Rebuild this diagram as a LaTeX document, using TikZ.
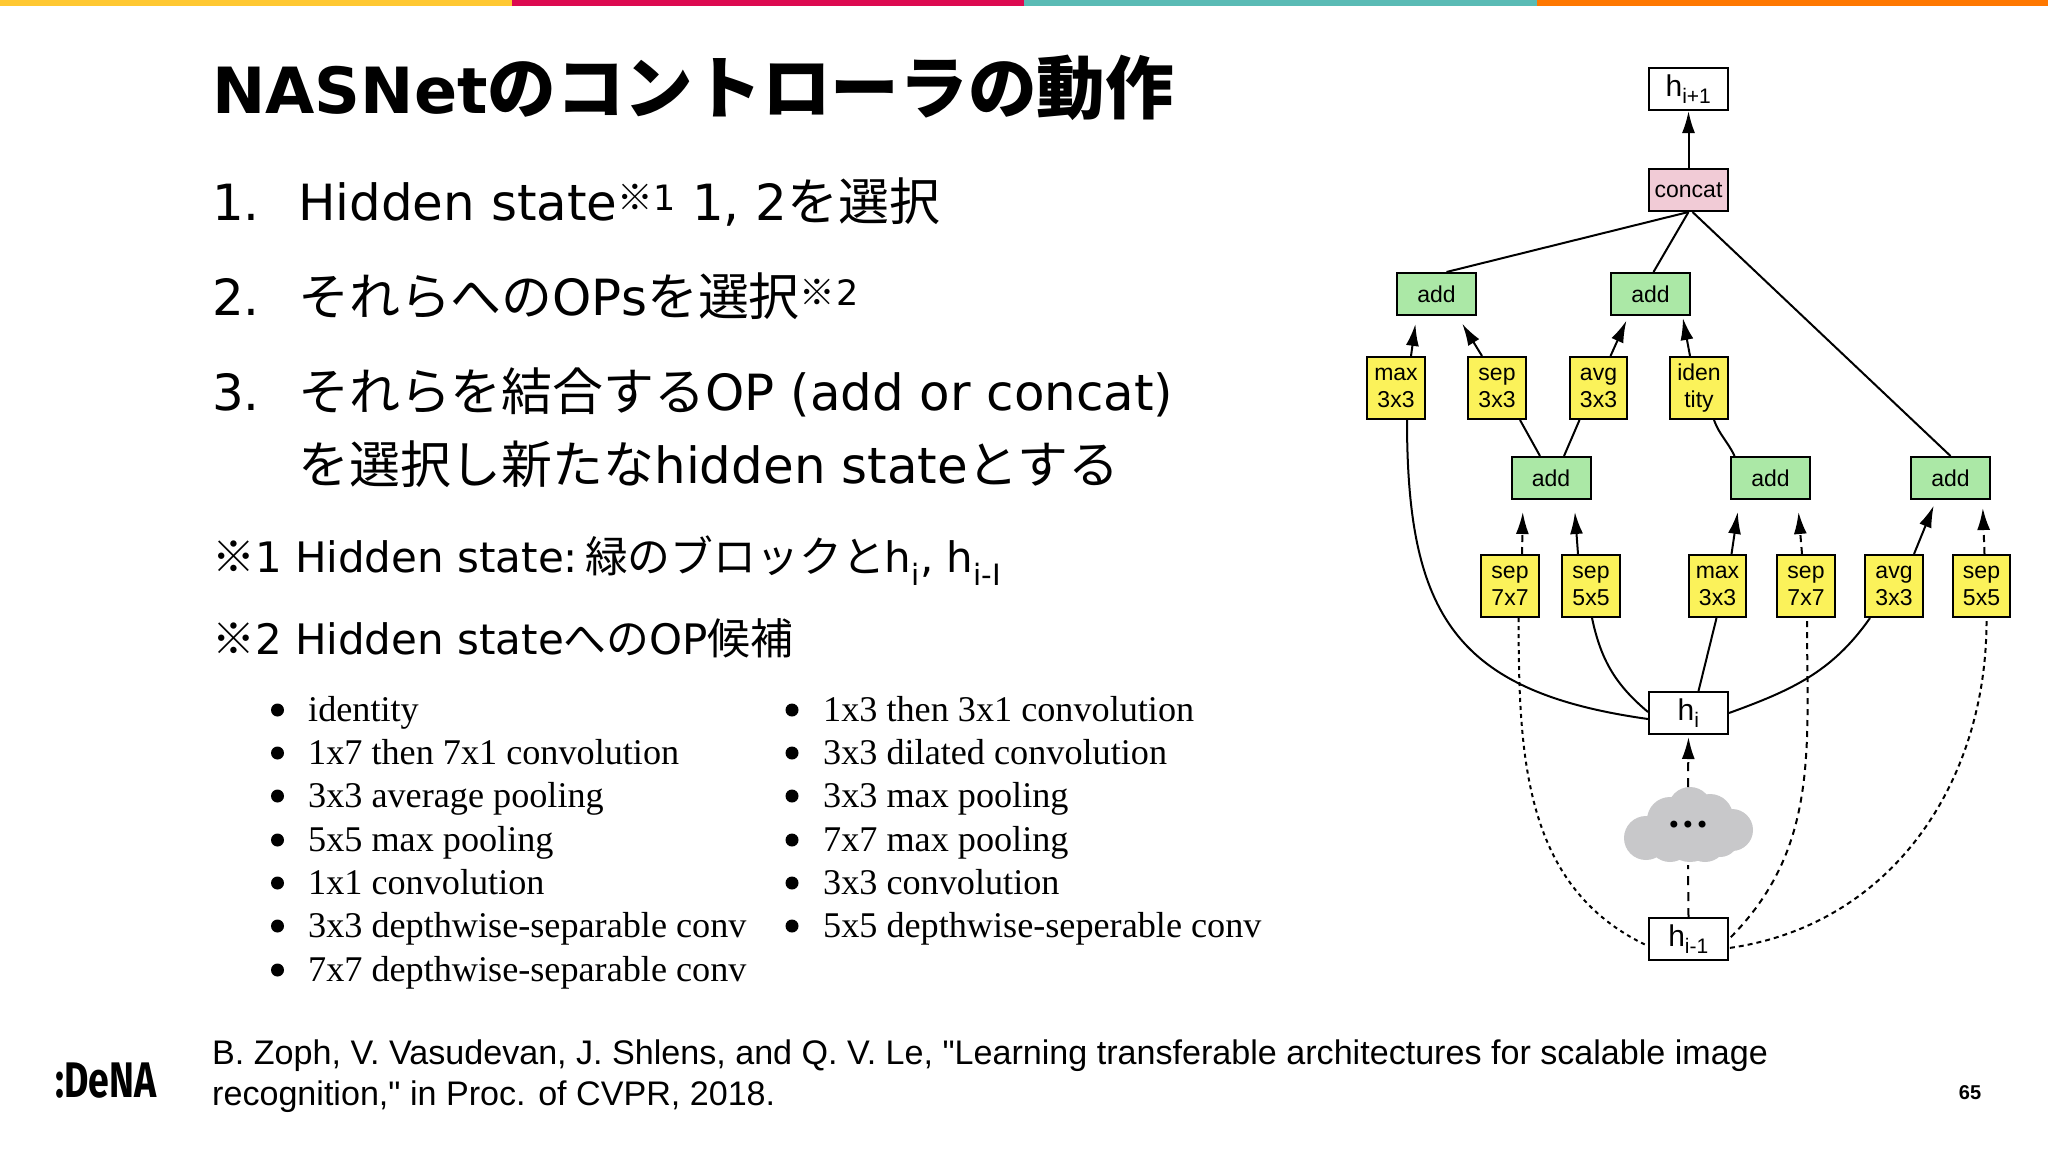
\documentclass[tikz,border=0pt]{standalone}
\usepackage{fontspec}
\usepackage{tikz}
\usetikzlibrary{positioning}
\usetikzlibrary{arrows.meta}
\setmainfont{DejaVu Sans}
\newfontfamily\jp[Scale=1.02]{Noto Sans CJK JP}
\newfontfamily\arialfont{Liberation Sans}
\newfontfamily\timesfont{Liberation Serif}
\newfontfamily\logofont[FakeStretch=0.75]{Fira Sans}
\definecolor{addgreen}{HTML}{ABE8A6}
\definecolor{opyellow}{HTML}{FBF25A}
\definecolor{concatpink}{HTML}{F1CBD6}
\definecolor{cloudgray}{HTML}{C8C8CA}
\definecolor{baryellow}{HTML}{FFC832}
\definecolor{barred}{HTML}{DC0A50}
\definecolor{barteal}{HTML}{5ABBB5}
\definecolor{barorange}{HTML}{FF7800}
\tikzstyle{statebox}=[draw, fill=white, line width=2pt, minimum width=79pt, minimum height=42pt, inner sep=0pt, font=\arialfont\fontsize{30}{32}\selectfont]
\tikzstyle{addbox}=[statebox, fill=addgreen, font=\arialfont\fontsize{23}{27}\selectfont]
\tikzstyle{opbox}=[draw, fill=opyellow, line width=2pt, minimum width=57.5pt, minimum height=62pt, inner sep=0pt, align=center, font=\arialfont\fontsize{23}{27}\selectfont]
\tikzstyle{flow}=[line width=2pt]
\tikzstyle{flowarrow}=[flow, -{Latex[length=22pt,width=13pt]}]
\tikzstyle{longdash}=[line width=2pt, dash pattern=on 9pt off 7pt]
\tikzstyle{dots}=[line width=2pt, dash pattern=on 4pt off 4pt]
\tikzstyle{slidetext}=[anchor=base west, inner sep=0pt, font=\fontsize{49.9}{58}\selectfont]
\tikzstyle{notetext}=[anchor=base west, inner sep=0pt, font=\fontsize{42}{50}\selectfont]
\tikzstyle{listtext}=[anchor=base west, inner sep=0pt, font=\timesfont\fontsize{36.2}{42}\selectfont]
\tikzstyle{listdot}=[circle, fill=black, inner sep=0pt, minimum size=13pt]
\tikzstyle{reftext}=[anchor=base west, inner sep=0pt, font=\arialfont\fontsize{34.1}{40}\selectfont]
\begin{document}
\begin{tikzpicture}[x=1pt, y=-1pt]
    \useasboundingbox (0,0) rectangle (2048,1152);
    \fill[white] (0,0) rectangle (2048,1152);

    % colour bar
    \fill[baryellow] (0,0) rectangle (512,6);
    \fill[barred] (512,0) rectangle (1024,6);
    \fill[barteal] (1024,0) rectangle (1537,6);
    \fill[barorange] (1537,0) rectangle (2048,6);

    % text
    \node[anchor=base west, inner sep=0pt, font=\bfseries\fontsize{63.7}{76}\selectfont] (title) at (212,113) {NASNet{\jp\bfseries\fontsize{67.3}{76}\selectfont のコントローラの動作}};
    \node[slidetext] (n1) at (212,220) {1.};
    \node[slidetext] (item1) at (298,220) {Hidden state{\jp\textsuperscript{※}}\textsuperscript{1} 1, 2{\jp を選択}};
    \node[slidetext] (n2) at (212,315) {2.};
    \node[slidetext] (item2) at (298,315) {{\jp それらへの}OPs{\jp を選択}{\jp\textsuperscript{※}}\textsuperscript{2}};
    \node[slidetext] (n3) at (212,410) {3.};
    \node[slidetext] (item3) at (298,410) {{\jp それらを結合する}OP (add or concat)};
    \node[slidetext] (item3b) at (298,483) {{\jp を選択し新たな}hidden state{\jp とする}};
    \node[notetext] (note1) at (212,572) {{\jp ※}1 Hidden state:\hspace{7pt}{\jp 緑のブロックと}h\textsubscript{i}, h\textsubscript{i-I}};
    \node[notetext] (note2) at (212,654) {{\jp ※}2 Hidden state{\jp への}OP{\jp 候補}};

    % left list
    \foreach \y/\t in {721/identity, 764/1x7 then 7x1 convolution, 807/3x3 average pooling, 851/5x5 max pooling, 894/1x1 convolution, 937/3x3 depthwise-separable conv, 981/7x7 depthwise-separable conv} {
        \node[listdot] (bl\y) at (277.5,\y-11) {};
        \node[listtext] (tl\y) at (308,\y) {\t};
    }
    % right list
    \foreach \y/\t in {721/1x3 then 3x1 convolution, 764/3x3 dilated convolution, 807/3x3 max pooling, 851/7x7 max pooling, 894/3x3 convolution, 937/5x5 depthwise-seperable conv} {
        \node[listdot] (br\y) at (792,\y-11) {};
        \node[listtext] (tr\y) at (823,\y) {\t};
    }

    \node[reftext] (ref1) at (212,1064) {B. Zoph, V. Vasudevan, J. Shlens, and Q. V. Le, "Learning transferable architectures for scalable image};
    \node[reftext] (ref2) at (212,1105) {recognition," in Proc. of CVPR, 2018.};
    \node[anchor=base, inner sep=0pt, font=\arialfont\bfseries\fontsize{20}{24}\selectfont] (page) at (1970,1099) {65};
    \node[anchor=base west, inner sep=0pt, font=\logofont\bfseries\fontsize{50}{50}\selectfont] (logo) at (55,1097) {:DeNA};

    % cloud
    \foreach \cx/\cy/\r in {1690/809/22, 1670/820/23, 1710/817/23, 1646/838/22, 1732/830/21, 1670/840/22, 1705/840/22, 1690/835/27, 1720/838/19}
        \fill[cloudgray] (\cx,\cy) circle (\r);

    % nodes
    \node[statebox] (hnext) at (1688.5,89) {h\textsubscript{i+1}};
    \node[statebox, fill=concatpink, font=\arialfont\fontsize{23}{27}\selectfont, below=57pt of hnext] (concat) {concat};
    \node[addbox, below left=60pt and 171pt of concat] (adda) {add};
    \node[addbox, right=133pt of adda] (addb) {add};

    \node[opbox] (maxa) at (1396,388) {max\\3x3};
    \node[opbox, right=41.5pt of maxa] (sepa) {sep\\3x3};
    \node[opbox, right=42pt of sepa] (avga) {avg\\3x3};
    \node[opbox, right=41pt of avga] (idena) {iden\\tity};

    \node[addbox] (addc) at (1551,478) {add};
    \node[addbox, right=138.5pt of addc] (addd) {add};
    \node[addbox, right=99pt of addd] (adde) {add};

    \node[opbox] (sepb) at (1510,586) {sep\\7x7};
    \node[opbox, right=21.5pt of sepb] (sepc) {sep\\5x5};
    \node[opbox, right=67pt of sepc] (maxb) {max\\3x3};
    \node[opbox, right=29pt of maxb] (sepd) {sep\\7x7};
    \node[opbox, right=28.5pt of sepd] (avgb) {avg\\3x3};
    \node[opbox, right=28pt of avgb] (sepe) {sep\\5x5};

    \node[statebox] (hcur) at (1688.5,713) {h\textsubscript{i}};
    \node[inner sep=0pt, font=\fontsize{24}{24}\selectfont] (cloud) at (1688,827) {•••};
    \node[statebox] (hprev) at (1688.5,939) {h\textsubscript{i-1}};

    % upper edges
    \draw[flowarrow] (concat) -- (hnext);
    \draw[flow] ([xshift=10pt]adda.north) -- (concat.south);
    \draw[flow] ([xshift=3pt]addb.north) -- (concat.south);
    \draw[flow] (adde.north) -- ([xshift=4pt]concat.south);

    \draw[flowarrow, shorten >=8pt] ([xshift=15pt]maxa.north) -- ([xshift=-20pt]adda.south);
    \draw[flowarrow, shorten >=9pt] ([xshift=-15pt]sepa.north) -- ([xshift=21pt]adda.south);
    \draw[flowarrow, shorten >=5pt] ([xshift=12pt]avga.north) -- ([xshift=-22pt]addb.south);
    \draw[flowarrow, shorten >=2pt] ([xshift=-9pt]idena.north) -- ([xshift=32pt]addb.south);

    \draw[flow] ([xshift=23pt]sepa.south) -- ([xshift=-11pt]addc.north);
    \draw[flow] ([xshift=-19pt]avga.south) -- ([xshift=13pt]addc.north);
    \draw[flow] ([xshift=15pt]idena.south) to[out=-70, in=115] ([xshift=-36pt]addd.north);

    % arrows into the lower add boxes
    \draw[flowarrow, dash pattern=on 7pt off 5pt, shorten >=12pt] ([xshift=12pt]sepb.north) -- ([xshift=-28pt]addc.south);
    \draw[flowarrow, shorten >=12pt] ([xshift=-13pt]sepc.north) -- ([xshift=23pt]addc.south);
    \draw[flowarrow, shorten >=12pt] ([xshift=14pt]maxb.north) -- ([xshift=-31pt]addd.south);
    \draw[flowarrow, dash pattern=on 7pt off 5pt, shorten >=12pt] ([xshift=-4pt]sepd.north) -- ([xshift=27pt]addd.south);
    \draw[flowarrow, shorten >=6pt] ([xshift=20pt]avgb.north) -- ([xshift=-14.5pt]adde.south);
    \draw[flowarrow, dash pattern=on 7pt off 5pt, shorten >=8pt] ([xshift=3pt]sepe.north) -- ([xshift=32pt]adde.south);

    % hi to the ops
    \draw[flow] ([xshift=11pt]maxa.south) to[out=270, in=172, looseness=1.3] ([yshift=-6pt]hcur.west);
    \draw[flow] ([xshift=1pt]sepc.south) to[out=282, in=140] ([yshift=1pt]hcur.west);
    \draw[flow] ([xshift=-1pt]maxb.south) -- ([xshift=10pt]hcur.north);
    \draw[flow] ([xshift=-24pt]avgb.south) to[out=235, in=20] (hcur.east);

    % hi-1 to the ops
    \draw[dots] ([xshift=8.6pt]sepb.south) to[out=270, in=155] ([yshift=-7pt]hprev.west);
    \draw[longdash, dash pattern=on 6pt off 5pt] ([xshift=1pt, yshift=-3pt]sepd.south) to[out=270, in=45] (hprev.east);
    \draw[dots, dash pattern=on 5pt off 4pt] ([xshift=5pt, yshift=-3pt]sepe.south) to[out=270, in=8] ([yshift=-9pt]hprev.east);

    % centre line through the cloud
    \draw[longdash] (hprev.north) -- ([yshift=-38pt]cloud.center);
    \draw[flowarrow, dash pattern=on 9pt off 7pt, shorten >=2pt] ([yshift=40pt]cloud.center) -- (hcur.south);
\end{tikzpicture}
\end{document}
